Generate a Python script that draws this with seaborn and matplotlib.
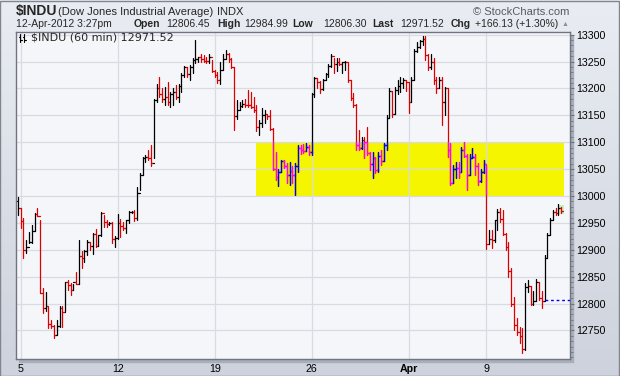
import numpy as np
import pandas as pd
import matplotlib.pyplot as plt
import matplotlib.patches as mpatches
from matplotlib.colors import LinearSegmentedColormap
import seaborn as sns

sns.set_style("white")
plt.rcParams['font.family'] = ['Liberation Sans', 'DejaVu Sans']

# hourly bars, 7 per session; first bar is the last hour of Mar 2
highs = [12999,
         12977, 12959, 12918, 12934, 12946, 12968, 12977,   # Mar 5
         12955, 12829, 12821, 12793, 12770, 12760, 12770,   # Mar 6
         12796, 12796, 12841, 12844, 12838, 12836, 12858,   # Mar 7
         12918, 12897, 12900, 12918, 12915, 12932, 12938,   # Mar 8
         12928, 12970, 12965, 12955, 12952, 12952, 12925,   # Mar 9
         12966, 12957, 12952, 12955, 12972, 12972, 12974,   # Mar 12
         13017, 13042, 13073, 13076, 13085, 13095, 13180,   # Mar 13
         13209, 13222, 13200, 13203, 13212, 13194, 13200,   # Mar 14
         13206, 13209, 13228, 13242, 13240, 13243, 13256,   # Mar 15
         13290, 13259, 13265, 13262, 13259, 13265, 13253,   # Mar 16
         13234, 13231, 13250, 13265, 13271, 13266, 13256,   # Mar 19
         13240, 13178, 13175, 13178, 13181, 13197, 13194,   # Mar 20
         13185, 13169, 13141, 13163, 13160, 13150, 13160,   # Mar 21
         13126, 13082, 13051, 13067, 13067, 13061, 13064,   # Mar 22
         13055, 13061, 13095, 13095, 13096, 13098, 13095,   # Mar 23
         13191, 13222, 13219, 13213, 13218, 13228, 13246,   # Mar 26
         13265, 13256, 13256, 13256, 13250, 13252, 13248,   # Mar 27
         13215, 13192, 13172, 13123, 13110, 13110, 13129,   # Mar 28
         13082, 13082, 13072, 13082, 13085, 13098, 13150,   # Mar 29
         13200, 13195, 13203, 13215, 13222, 13219, 13215,   # Mar 30
         13212, 13222, 13274, 13287, 13290, 13297, 13298,   # Apr 2
         13265, 13265, 13256, 13222, 13222, 13222, 13203,   # Apr 3
         13200, 13098, 13058, 13064, 13064, 13092, 13101,   # Apr 4
         13079, 13079, 13089, 13079, 13061, 13051, 13067,   # Apr 5
         13058, 12937, 12937, 12955, 12975, 12977, 12974,   # Apr 9
         12931, 12915, 12866, 12813, 12773, 12757, 12754,   # Apr 10
         12838, 12844, 12832, 12823, 12845, 12841, 12823,   # Apr 11
         12891, 12931, 12959, 12974, 12977, 12985, 12980]   # Apr 12

lows = [12964,
        12940, 12884, 12895, 12912, 12912, 12935, 12962,
        12819, 12783, 12787, 12754, 12754, 12736, 12741,
        12757, 12757, 12787, 12826, 12816, 12826, 12836,
        12836, 12866, 12878, 12890, 12899, 12892, 12906,
        12907, 12926, 12943, 12943, 12946, 12912, 12906,
        12921, 12923, 12937, 12931, 12949, 12968, 12954,
        12955, 13012, 13040, 13064, 13067, 13055, 13070,
        13175, 13185, 13175, 13169, 13169, 13166, 13169,
        13181, 13175, 13194, 13222, 13222, 13216, 13228,
        13247, 13250, 13250, 13250, 13248, 13247, 13231,
        13222, 13211, 13209, 13235, 13255, 13250, 13238,
        13123, 13144, 13160, 13166, 13166, 13166, 13163,
        13157, 13120, 13113, 13128, 13135, 13144, 13123,
        13048, 13030, 13018, 13045, 13052, 13024, 13021,
        13024, 13002, 13045, 13079, 13080, 13083, 13076,
        13076, 13185, 13200, 13191, 13197, 13215, 13222,
        13240, 13228, 13232, 13243, 13228, 13234, 13212,
        13178, 13165, 13086, 13086, 13088, 13070, 13076,
        13048, 13033, 13042, 13045, 13058, 13065, 13085,
        13145, 13147, 13152, 13190, 13194, 13200, 13195,
        13154, 13175, 13215, 13268, 13276, 13280, 13253,
        13234, 13237, 13209, 13191, 13200, 13132, 13150,
        13073, 13020, 13025, 13033, 13033, 13045, 13073,
        13011, 13039, 13070, 13039, 13020, 13027, 13042,
        12902, 12910, 12903, 12915, 12937, 12952, 12928,
        12900, 12850, 12795, 12751, 12742, 12727, 12708,
        12714, 12822, 12798, 12798, 12805, 12807, 12792,
        12806, 12884, 12928, 12955, 12965, 12965, 12968]

closes = [12978,
          12953, 12900, 12906, 12914, 12935, 12966, 12963,
          12820, 12792, 12795, 12762, 12758, 12742, 12759,
          12792, 12784, 12840, 12834, 12826, 12840, 12837,
          12888, 12884, 12897, 12915, 12907, 12929, 12908,
          12927, 12968, 12951, 12948, 12950, 12920, 12922,
          12950, 12944, 12940, 12955, 12970, 12971, 12960,
          13005, 13040, 13070, 13072, 13070, 13062, 13178,
          13200, 13190, 13180, 13185, 13175, 13190, 13194,
          13185, 13205, 13225, 13240, 13226, 13240, 13253,
          13255, 13258, 13255, 13252, 13251, 13258, 13232,
          13225, 13215, 13235, 13255, 13265, 13255, 13240,
          13148, 13160, 13168, 13172, 13170, 13169, 13166,
          13160, 13128, 13135, 13150, 13152, 13148, 13125,
          13050, 13035, 13045, 13065, 13055, 13040, 13046,
          13040, 13055, 13089, 13085, 13084, 13092, 13081,
          13190, 13220, 13212, 13199, 13216, 13227, 13242,
          13260, 13245, 13250, 13246, 13249, 13250, 13215,
          13182, 13170, 13095, 13090, 13105, 13100, 13080,
          13060, 13070, 13048, 13075, 13065, 13095, 13145,
          13195, 13152, 13198, 13205, 13210, 13215, 13212,
          13175, 13215, 13270, 13278, 13288, 13292, 13262,
          13240, 13250, 13215, 13200, 13215, 13175, 13200,
          13085, 13025, 13050, 13052, 13045, 13085, 13075,
          13040, 13070, 13072, 13055, 13028, 13045, 13060,
          12910, 12920, 12918, 12955, 12970, 12958, 12930,
          12905, 12860, 12800, 12760, 12748, 12740, 12716,
          12830, 12832, 12800, 12805, 12840, 12810, 12805,
          12885, 12928, 12955, 12970, 12968, 12978, 12971.52]

first_open = 12990
tick_pos = [1, 36, 71, 106, 141, 169]
tick_labels = ['5', '12', '19', '26', 'Apr', '9']
today_open = 12806.45

# build OHLC segments in long form for seaborn
opens = [first_open] + closes[:-1]
rows = []
for i in range(len(closes)):
    d = 'up' if (i == 0 or closes[i] >= closes[i - 1]) else 'down'
    rows.append((i, lows[i], 3 * i, d))
    rows.append((i, highs[i], 3 * i, d))
    rows.append((i - 0.5, opens[i], 3 * i + 1, d))
    rows.append((i, opens[i], 3 * i + 1, d))
    rows.append((i, closes[i], 3 * i + 2, d))
    rows.append((i + 0.5, closes[i], 3 * i + 2, d))
segs = pd.DataFrame(rows, columns=['x', 'y', 'seg', 'dir'])

W, H = 620, 376
fig = plt.figure(figsize=(W / 100, H / 100), dpi=100)

# background gradient
bg = fig.add_axes([0, 0, 1, 1], zorder=-10)
grad = np.linspace(0, 1, 256).reshape(-1, 1)
cm = LinearSegmentedColormap.from_list('bg', ['#e9edf3', '#cdd2dc'])
bg.imshow(grad, aspect='auto', cmap=cm, extent=[0, 1, 0, 1])
bg.axis('off')

L, R, T, B = 16, 570, 32, 359
rect_ax = [L / W, 1 - B / H, (R - L) / W, (B - T) / H]
fig.patches.append(mpatches.Rectangle((rect_ax[0] + 3 / W, rect_ax[1] - 3 / H), rect_ax[2], rect_ax[3],
                                      transform=fig.transFigure, color='#a9afba', zorder=-5))
fig.patches.append(mpatches.Rectangle((0, 0), 1 - 1 / W, 1 - 1 / H, transform=fig.transFigure,
                                      fill=False, edgecolor='#80858f', lw=1, zorder=5))

ax = fig.add_axes(rect_ax)
ax.set_facecolor('#f5f6fa')
ax.set_axisbelow(True)

hl = mpatches.Rectangle((85.9, 13000), 111.1, 100, facecolor='#f5f500', edgecolor='none', zorder=0.2)
ax.add_patch(hl)
ax.add_patch(mpatches.Rectangle((195.1, 12967), 1.9, 17, facecolor='#bfeebf', edgecolor='none', zorder=0.3))

sns.lineplot(data=segs, x='x', y='y', units='seg', estimator=None, hue='dir',
             palette={'up': '#000000', 'down': '#dd0000'}, sort=False, legend=False,
             linewidth=0.9, ax=ax)
n = len(ax.lines)
sns.lineplot(data=segs, x='x', y='y', units='seg', estimator=None, hue='dir',
             palette={'up': '#0000ff', 'down': '#ff00ff'}, sort=False, legend=False,
             linewidth=0.9, ax=ax)
for ln in ax.lines[n:]:
    ln.set_clip_path(hl)

ax.hlines(today_open, 190, 199.2, colors='#0000ff', linestyles=(0, (2, 2)), lw=1, zorder=3)

ax.set_xlim(-0.7, 199.2)
ax.set_ylim(12697, 13305)
ax.set_xlabel('')
ax.set_ylabel('')

ax.set_xticks(tick_pos)
ax.set_xticklabels(tick_labels)
ax.get_xticklabels()[4].set_fontweight('bold')
ax.yaxis.tick_right()
ax.set_yticks(np.arange(12750, 13301, 50))
ax.set_yticks(np.arange(12700, 13301, 10), minor=True)
ax.tick_params(axis='both', labelsize=7.7, colors='#000000', length=3, width=0.8, pad=1.5,
               direction='out')
ax.tick_params(axis='y', which='minor', length=2, width=0.6, right=True, left=False)
ax.tick_params(axis='y', which='both', color='#6f7480')
ax.tick_params(axis='x', color='#6f7480', length=2)
ax.grid(True, which='major', color='#d9dbe2', lw=0.9)
for s in ax.spines.values():
    s.set_color('#6f7480')
    s.set_linewidth(1)

# header
def ftext(x, y, s, **kw):
    fig.text(x / W, 1 - y / H, s, va='center', **kw)

ftext(16, 11.5, r'\$INDU', size=10, weight='bold')
ftext(58, 12, '(Dow Jones Industrial Average)', size=8)
ftext(217, 12, 'INDX', size=8)
ftext(569, 12, '© StockCharts.com', size=8, ha='right', color='#555a64')
ftext(16, 24, '12-Apr-2012 3:27pm', size=7.5)
for x, s, b in [(134, 'Open', True), (166, '12806.45', False), (217, 'High', True),
                (244, '12984.99', False), (292, 'Low', True), (323, '12806.30', False),
                (372, 'Last', True), (400, '12971.52', False), (451, 'Chg', True),
                (475, '+166.13 (+1.30%)', False)]:
    ftext(x, 24, s, size=7.5, weight='bold' if b else 'normal')
ftext(565, 24, '▲', size=5, color='#8a8f99', ha='center')

# inline legend (positions in pixels from the plot's top-left corner)
pw, ph = R - L, B - T
ax.text(15 / pw, 1 - 6 / ph, r'\$INDU (60 min) 12971.52', transform=ax.transAxes,
        size=8, va='center', ha='left', family='DejaVu Sans')
for dx in (0, 4):
    x0 = (4 + dx) / pw
    ax.plot([x0, x0], [1 - 2 / ph, 1 - 10 / ph], transform=ax.transAxes, color='k', lw=0.8)
    ax.plot([x0 - 1.5 / pw, x0], [1 - 5 / ph] * 2, transform=ax.transAxes, color='k', lw=0.8)
    ax.plot([x0, x0 + 1.5 / pw], [1 - 8 / ph] * 2, transform=ax.transAxes, color='k', lw=0.8)

fig.savefig('out.png', dpi=100)
